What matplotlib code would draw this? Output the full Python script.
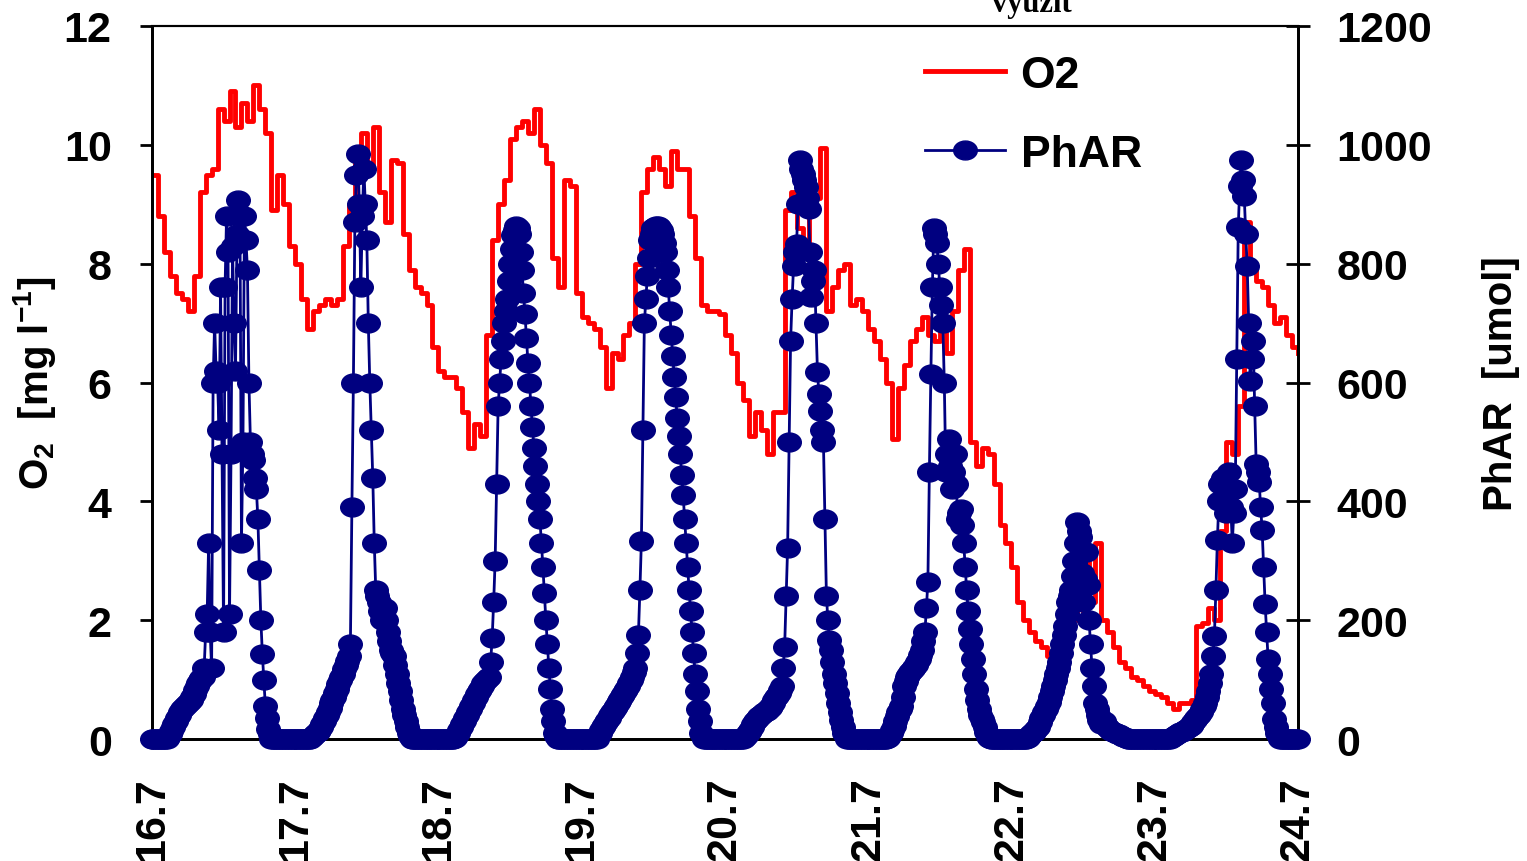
import numpy as np
import matplotlib.pyplot as plt
from matplotlib.path import Path
from matplotlib.transforms import Affine2D

plt.rcParams['font.family'] = ['Liberation Sans', 'DejaVu Sans']
plt.rcParams['font.weight'] = 'bold'
plt.rcParams['axes.labelweight'] = 'bold'
plt.rcParams['mathtext.default'] = 'regular'

days = ["16.7", "17.7", "18.7", "19.7", "20.7", "21.7", "22.7", "23.7", "24.7"]

# O2 [mg/l], hourly readings (00:00 .. 23:00) per day
o2_d1 = [9.5, 8.8, 8.2, 7.8, 7.5, 7.4, 7.2, 7.8, 9.2, 9.5, 9.6, 10.6,
         10.4, 10.9, 10.3, 10.7, 10.4, 11.0, 10.6, 10.2, 8.9, 9.5, 9.0, 8.3]
o2_d2 = [8.0, 7.4, 6.9, 7.2, 7.3, 7.4, 7.3, 7.4, 8.3, 9.0, 9.7, 10.2,
         9.6, 10.3, 9.2, 8.7, 9.75, 9.7, 8.5, 7.9, 7.6, 7.5, 7.3, 6.6]
o2_d3 = [6.2, 6.1, 6.1, 5.9, 5.5, 4.9, 5.3, 5.1, 6.8, 8.4, 9.0, 9.4,
         10.1, 10.3, 10.4, 10.2, 10.6, 10.0, 9.7, 8.1, 7.6, 9.4, 9.3, 7.5]
o2_d4 = [7.1, 7.0, 6.9, 6.6, 5.9, 6.5, 6.4, 6.8, 7.0, 8.0, 9.2, 9.6,
         9.8, 9.6, 9.3, 9.9, 9.6, 9.6, 8.8, 8.1, 7.3, 7.2, 7.2, 7.15]
o2_d5 = [6.8, 6.5, 6.0, 5.7, 5.1, 5.5, 5.2, 4.8, 5.5, 5.5, 8.9, 9.2,
         8.6, 8.3, 8.9, 9.1, 9.95, 7.2, 7.6, 7.9, 8.0, 7.3, 7.4, 7.2]
o2_d6 = [6.9, 6.7, 6.4, 6.0, 5.05, 5.9, 6.3, 6.7, 6.9, 7.1, 6.8, 6.7,
         7.1, 6.5, 7.2, 7.9, 8.25, 5.0, 4.6, 4.9, 4.8, 4.3, 3.6, 3.3]
o2_d7 = [2.9, 2.3, 2.0, 1.8, 1.65, 1.55, 1.4, 1.25, 1.9, 1.8, 2.4, 2.0,
         3.2, 2.3, 3.3, 2.0, 1.8, 1.55, 1.3, 1.2, 1.05, 1.0, 0.9, 0.8]
o2_d8 = [0.75, 0.7, 0.6, 0.5, 0.6, 0.6, 0.65, 1.9, 1.95, 2.2, 2.0, 3.5,
         5.0, 4.8, 5.6, 8.7, 7.9, 7.7, 7.6, 7.3, 7.0, 7.1, 6.8, 6.6]
o2_end = [6.5]

# PhAR [umol], 15-minute readings, one row = 2 hours
phar_d1 = [0, 0, 0, 0, 0, 0, 0, 0,
           0, 0, 0, 3, 8, 14, 20, 25,
           30, 35, 40, 45, 50, 52, 55, 58,
           60, 62, 65, 70, 75, 82, 90, 95,
           100, 102, 105, 120, 180, 210, 330, 180,
           120, 600, 700, 620, 600, 520, 760, 480,
           180, 760, 880, 820, 210, 480, 830, 700,
           620, 850, 907, 880, 330, 500, 880, 840,
           790, 600, 500, 480, 470, 440, 420, 370,
           285, 200, 143, 100, 56, 35, 17, 8,
           0, 0, 0, 0, 0, 0, 0, 0,
           0, 0, 0, 0, 0, 0, 0, 0]
phar_d2 = [0, 0, 0, 0, 0, 0, 0, 0,
           0, 0, 0, 3, 5, 8, 10, 12,
           15, 20, 25, 30, 35, 40, 45, 52,
           60, 65, 70, 78, 85, 92, 100, 105,
           110, 118, 125, 132, 140, 160, 390, 600,
           870, 950, 985, 900, 760, 880, 960, 900,
           840, 700, 600, 520, 440, 330, 250, 240,
           230, 215, 200, 210, 220, 200, 180, 165,
           150, 145, 140, 125, 110, 95, 80, 65,
           50, 40, 30, 20, 10, 5, 0, 0,
           0, 0, 0, 0, 0, 0, 0, 0,
           0, 0, 0, 0, 0, 0, 0, 0]
phar_d3 = [0, 0, 0, 0, 0, 0, 0, 0,
           0, 0, 0, 2, 5, 10, 15, 20,
           25, 30, 35, 40, 45, 50, 55, 60,
           65, 70, 75, 80, 85, 90, 95, 98,
           100, 102, 105, 130, 170, 230, 300, 430,
           560, 600, 640, 670, 700, 720, 740, 770,
           800, 825, 848, 856, 864, 860, 850, 820,
           790, 750, 715, 675, 633, 600, 560, 525,
           490, 460, 430, 400, 370, 330, 290, 245,
           200, 160, 120, 85, 50, 30, 10, 5,
           0, 0, 0, 0, 0, 0, 0, 0,
           0, 0, 0, 0, 0, 0, 0, 0]
phar_d4 = [0, 0, 0, 0, 0, 0, 0, 0,
           0, 0, 0, 5, 10, 15, 20, 24,
           28, 32, 35, 40, 45, 48, 52, 56,
           60, 64, 68, 72, 75, 80, 85, 90,
           95, 100, 105, 112, 120, 145, 175, 250,
           333, 520, 700, 740, 780, 810, 840, 850,
           860, 862, 864, 863, 862, 856, 850, 835,
           820, 790, 760, 720, 680, 645, 610, 575,
           540, 510, 480, 445, 410, 370, 330, 290,
           250, 215, 180, 145, 110, 80, 50, 30,
           10, 5, 0, 0, 0, 0, 0, 0,
           0, 0, 0, 0, 0, 0, 0, 0]
phar_d5 = [0, 0, 0, 0, 0, 0, 0, 0,
           0, 0, 0, 0, 0, 2, 5, 8,
           12, 16, 20, 25, 30, 32, 35, 38,
           40, 42, 45, 46, 48, 50, 52, 56,
           60, 65, 70, 73, 77, 83, 90, 120,
           155, 240, 322, 500, 670, 740, 796, 820,
           833, 900, 975, 960, 951, 940, 929, 910,
           892, 820, 744, 770, 790, 700, 618, 580,
           552, 520, 500, 370, 241, 200, 167, 150,
           130, 110, 95, 78, 60, 45, 32, 20,
           10, 5, 0, 0, 0, 0, 0, 0,
           0, 0, 0, 0, 0, 0, 0, 0]
phar_d6 = [0, 0, 0, 0, 0, 0, 0, 0,
           0, 0, 0, 0, 0, 2, 5, 10,
           15, 22, 30, 38, 45, 50, 55, 70,
           90, 98, 105, 108, 112, 115, 118, 122,
           125, 130, 135, 142, 150, 165, 180, 220,
           265, 450, 615, 760, 860, 850, 835, 800,
           760, 730, 700, 600, 450, 480, 505, 460,
           420, 450, 480, 430, 370, 380, 387, 360,
           330, 290, 250, 215, 185, 160, 135, 110,
           84, 65, 50, 40, 34, 28, 20, 12,
           5, 2, 0, 0, 0, 0, 0, 0,
           0, 0, 0, 0, 0, 0, 0, 0]
phar_d7 = [0, 0, 0, 0, 0, 0, 0, 0,
           0, 0, 0, 2, 5, 8, 10, 12,
           15, 18, 20, 28, 35, 40, 45, 50,
           55, 62, 70, 80, 90, 100, 110, 120,
           130, 145, 160, 175, 190, 210, 230, 240,
           250, 275, 300, 330, 365, 350, 340, 280,
           230, 270, 315, 260, 200, 160, 120, 90,
           60, 50, 40, 32, 25, 28, 30, 25,
           20, 18, 15, 13, 12, 11, 10, 9,
           8, 6, 5, 4, 3, 2, 0, 0,
           0, 0, 0, 0, 0, 0, 0, 0,
           0, 0, 0, 0, 0, 0, 0, 0]
phar_d8 = [0, 0, 0, 0, 0, 0, 0, 0,
           0, 0, 0, 2, 3, 5, 6, 8,
           10, 11, 12, 14, 15, 17, 18, 20,
           22, 25, 28, 32, 35, 38, 40, 45,
           50, 55, 60, 70, 80, 95, 110, 140,
           173, 250, 335, 400, 430, 435, 440, 410,
           380, 420, 450, 390, 330, 380, 420, 640,
           862, 930, 975, 940, 914, 850, 796, 700,
           603, 640, 670, 560, 463, 450, 433, 390,
           352, 290, 227, 180, 135, 110, 84, 60,
           34, 20, 10, 5, 0, 0, 0, 0,
           0, 0, 0, 0, 0, 0, 0, 0]
phar_end = [0]

o2 = np.array(o2_d1 + o2_d2 + o2_d3 + o2_d4 + o2_d5 + o2_d6 + o2_d7 + o2_d8 + o2_end)
phar = np.array(phar_d1 + phar_d2 + phar_d3 + phar_d4 + phar_d5 + phar_d6 + phar_d7
                + phar_d8 + phar_end)
t_o2 = np.arange(len(o2)) / 24.0      # days since 16.7 00:00
t_phar = np.arange(len(phar)) / 96.0

fig = plt.figure(figsize=(15.27, 8.62), dpi=100)
ax = fig.add_axes([0.0995, 0.1415, 0.7505, 0.8272])
ax2 = ax.twinx()

l1, = ax.plot(t_o2, o2, color='#ff0000', lw=3.5, drawstyle='steps-post')

ellipse = Path.unit_circle().transformed(Affine2D().scale(1.25, 1.0))
l2, = ax2.plot(t_phar, phar, color='#000080', lw=2, marker=ellipse, ms=17,
               clip_on=False, zorder=3)

ax.set_xlim(0, 8)
ax.set_ylim(0, 12)
ax2.set_ylim(0, 1200)
ax.set_xticks(range(9))
ax.set_xticklabels(days, rotation=90)
ax.set_yticks(range(0, 13, 2))
ax2.set_yticks(range(0, 1201, 200))

ax.tick_params(axis='y', direction='out', length=9, width=2, labelsize=31, pad=20)
ax.tick_params(axis='x', direction='out', length=7, width=2, labelsize=31, pad=20)
ax2.tick_params(axis='y', direction='inout', length=17, width=2, labelsize=31, pad=19)

for a in (ax, ax2):
    for s in a.spines.values():
        s.set_linewidth(2)
    a.spines['top'].set_linewidth(1.5)

ax.set_ylabel('O$_2$  [mg l$^{-1}$]', fontsize=29, fontweight='bold')
ax.yaxis.set_label_coords(-0.082, 0.5)
ax2.set_ylabel('PhAR  [umol]', fontsize=29, fontweight='bold')
ax2.yaxis.set_label_coords(1.161, 0.5)

ax2.legend([l1, l2], ['O2', 'PhAR'], loc='upper left',
           bbox_to_anchor=(925 / 1527, 1 - 56 / 862), bbox_transform=fig.transFigure,
           frameon=False, fontsize=32, handlelength=1.8, handletextpad=0.35,
           labelspacing=0.85, borderpad=0, borderaxespad=0)

fig.text(1032 / 1527, 1 - 12 / 862, 'využít', family='Liberation Serif',
         fontsize=22, weight='bold', ha='center', va='baseline')

fig.savefig('out.png', dpi=100)
